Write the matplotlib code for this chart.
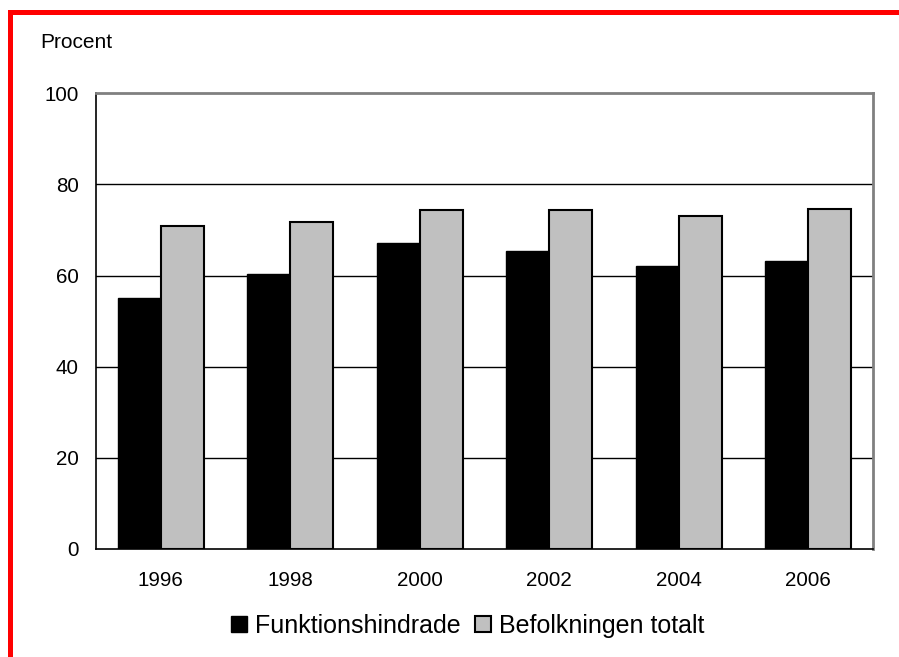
import numpy as np
import matplotlib
matplotlib.use("Agg")
import matplotlib.pyplot as plt
from matplotlib.lines import Line2D

plt.rcParams['font.family'] = ['Liberation Sans', 'DejaVu Sans']

# Data
years = ['1996', '1998', '2000', '2002', '2004', '2006']
funktionshindrade = [55.0, 60.3, 67.2, 65.4, 62.0, 63.2]
befolkningen = [70.9, 71.8, 74.4, 74.4, 73.0, 74.7]
yticks = [0, 20, 40, 60, 80, 100]

W, H = 899, 657
fig = plt.figure(figsize=(W / 100, H / 100), dpi=100)

left, right, top, bottom = 96, 873, 93.3, 549
ax = fig.add_axes([left / W, 1 - bottom / H, (right - left) / W, (bottom - top) / H])

x = np.arange(len(years))
bw = 1 / 3
ax.bar(x - bw / 2, funktionshindrade, width=bw, color='black', edgecolor='black',
       linewidth=1.0, label='Funktionshindrade', zorder=3)
ax.bar(x + bw / 2, befolkningen, width=bw, color='#C0C0C0', edgecolor='black',
       linewidth=1.5, label='Befolkningen totalt', zorder=3)

ax.set_xlim(-0.5, len(years) - 0.5)
ax.set_ylim(0, 100)
ax.set_yticks(yticks)
ax.set_xticks(x)
ax.set_xticklabels(years)
ax.tick_params(axis='both', length=0, labelsize=14.8)
ax.tick_params(axis='y', pad=12.5)
ax.tick_params(axis='x', pad=15.5)

# Gridlines
for v in yticks[1:-1]:
    ax.axhline(v, color='black', linewidth=1.0, zorder=1)

ax.spines['left'].set_color('black')
ax.spines['left'].set_linewidth(1.2)
ax.spines['bottom'].set_color('black')
ax.spines['bottom'].set_linewidth(1.2)
ax.spines['top'].set_color('#808080')
ax.spines['top'].set_linewidth(2)
ax.spines['right'].set_color('#808080')
ax.spines['right'].set_linewidth(2)

fig.text(40 / W, 1 - 42 / H, 'Procent', fontsize=15, ha='left', va='center')

handles, labels = ax.get_legend_handles_labels()
fig.legend(handles, labels, loc='center', bbox_to_anchor=(467.5 / W, 1 - 626 / H),
           frameon=False, ncol=2, fontsize=18, handlelength=0.65, handleheight=0.6,
           handletextpad=0.32, columnspacing=0.56, borderpad=0)

# Red frame on the left and top edges
fig.add_artist(Line2D([10 / W, 10 / W], [0, 1 - 11.5 / H], color='red', linewidth=3.6,
                      transform=fig.transFigure, solid_capstyle='projecting'))
fig.add_artist(Line2D([10 / W, 1], [1 - 11.5 / H, 1 - 11.5 / H], color='red', linewidth=3.6,
                      transform=fig.transFigure, solid_capstyle='projecting'))

fig.savefig('out.png', dpi=100)
